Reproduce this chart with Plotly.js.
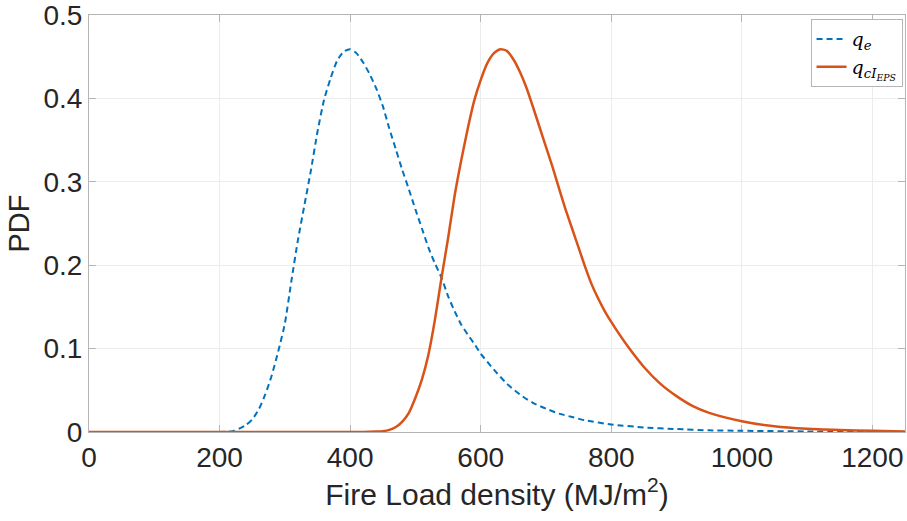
<!DOCTYPE html>
<html>
<head>
<meta charset="utf-8">
<script src="https://cdn.plot.ly/plotly-3.0.1.min.js"></script>
<style>html,body{margin:0;padding:0;background:#fff;}#chart{width:907px;height:521px;}</style>
</head>
<body>
<div id="chart"></div>
<script>
// q_e (blue dashed) values
const qeX = [0, 200, 220, 230, 240, 250, 260, 270, 280, 290, 300, 310, 320, 330, 340, 350, 360, 370, 380, 390, 400, 410, 420, 430, 440, 450, 460, 470, 480, 490, 500, 510, 520, 530, 540, 550, 560, 570, 580, 590, 600, 620, 640, 660, 680, 700, 720, 740, 760, 800, 850, 900, 950, 1000, 1100, 1250];
const qeY = [0, 0, 0.001, 0.004, 0.008, 0.015, 0.027, 0.045, 0.068, 0.097, 0.130, 0.181, 0.230, 0.272, 0.314, 0.360, 0.398, 0.424, 0.445, 0.456, 0.459, 0.454, 0.443, 0.429, 0.412, 0.391, 0.364, 0.339, 0.314, 0.291, 0.267, 0.244, 0.221, 0.202, 0.185, 0.163, 0.145, 0.129, 0.117, 0.106, 0.094, 0.075, 0.058, 0.045, 0.035, 0.028, 0.022, 0.018, 0.014, 0.009, 0.0055, 0.0035, 0.002, 0.0015, 0.0007, 0.0002];

// q_cI_EPS (orange solid) values
const qcX = [0, 420, 440, 450, 460, 470, 480, 490, 500, 510, 520, 530, 540, 550, 560, 570, 580, 590, 600, 610, 620, 630, 640, 650, 660, 670, 680, 690, 700, 710, 720, 730, 740, 750, 760, 770, 780, 790, 800, 825, 850, 875, 900, 925, 950, 1000, 1050, 1100, 1150, 1200, 1250];
const qcY = [0, 0, 0.0005, 0.001, 0.0025, 0.006, 0.0125, 0.023, 0.041, 0.063, 0.093, 0.135, 0.185, 0.232, 0.283, 0.325, 0.363, 0.397, 0.422, 0.442, 0.454, 0.459, 0.457, 0.447, 0.432, 0.413, 0.390, 0.366, 0.342, 0.318, 0.292, 0.267, 0.244, 0.221, 0.198, 0.177, 0.160, 0.145, 0.132, 0.103, 0.078, 0.058, 0.043, 0.031, 0.023, 0.013, 0.0068, 0.0038, 0.0024, 0.0014, 0.0006];

const xTicks = [0, 200, 400, 600, 800, 1000, 1200];
const yTicks = [0, 0.1, 0.2, 0.3, 0.4, 0.5];
const yTickText = ['0', '0.1', '0.2', '0.3', '0.4', '0.5'];

const traces = [
  {
    x: qeX, y: qeY, type: 'scatter', mode: 'lines',
    name: '<i>q</i><sub><i>e</i></sub>',
    line: {color: '#0072BD', width: 2, dash: '6px,4px', shape: 'spline', smoothing: 0.6}
  },
  {
    x: qcX, y: qcY, type: 'scatter', mode: 'lines',
    name: '<i>q</i><sub><i>cI</i><sub><i>EPS</i></sub></sub>',
    line: {color: '#D95319', width: 2.5, shape: 'spline', smoothing: 0.6}
  }
];

const axisCommon = {
  showline: true, linecolor: '#b5b5b5', linewidth: 1,
  mirror: 'ticks', ticks: 'inside', ticklen: 7, tickcolor: '#b5b5b5', tickwidth: 1,
  showgrid: true, gridcolor: '#ececec', gridwidth: 1,
  zeroline: false, layer: 'below traces', ticklabeloverflow: 'allow',
  tickfont: {family: 'Liberation Sans, Arial, sans-serif', size: 28, color: '#262626'}
};

const layout = {
  width: 907, height: 521,
  margin: {l: 89, r: 2, t: 15, b: 89},
  paper_bgcolor: '#ffffff', plot_bgcolor: '#ffffff',
  showlegend: true,
  xaxis: Object.assign({}, axisCommon, {
    range: [0, 1250], tickvals: xTicks, ticktext: xTicks.map(String),
    title: {text: 'Fire Load density (MJ/m<sup>2</sup>)', standoff: 12,
      font: {family: 'Liberation Sans, Arial, sans-serif', size: 30, color: '#262626'}}
  }),
  yaxis: Object.assign({}, axisCommon, {
    range: [0, 0.5], tickvals: yTicks, ticktext: yTickText,
    title: {text: 'PDF', standoff: 5,
      font: {family: 'Liberation Sans, Arial, sans-serif', size: 29, color: '#262626'}}
  }),
  legend: {
    x: 0.997, y: 0.99, xanchor: 'right', yanchor: 'top',
    bgcolor: '#ffffff', bordercolor: '#b5b5b5', borderwidth: 1,
    font: {family: 'DejaVu Serif, Liberation Serif, serif', size: 19, color: '#000000'},
    itemwidth: 30, tracegroupgap: 0
  }
};

Plotly.newPlot('chart', traces, layout, {displayModeBar: false, staticPlot: true});
</script>
</body>
</html>
